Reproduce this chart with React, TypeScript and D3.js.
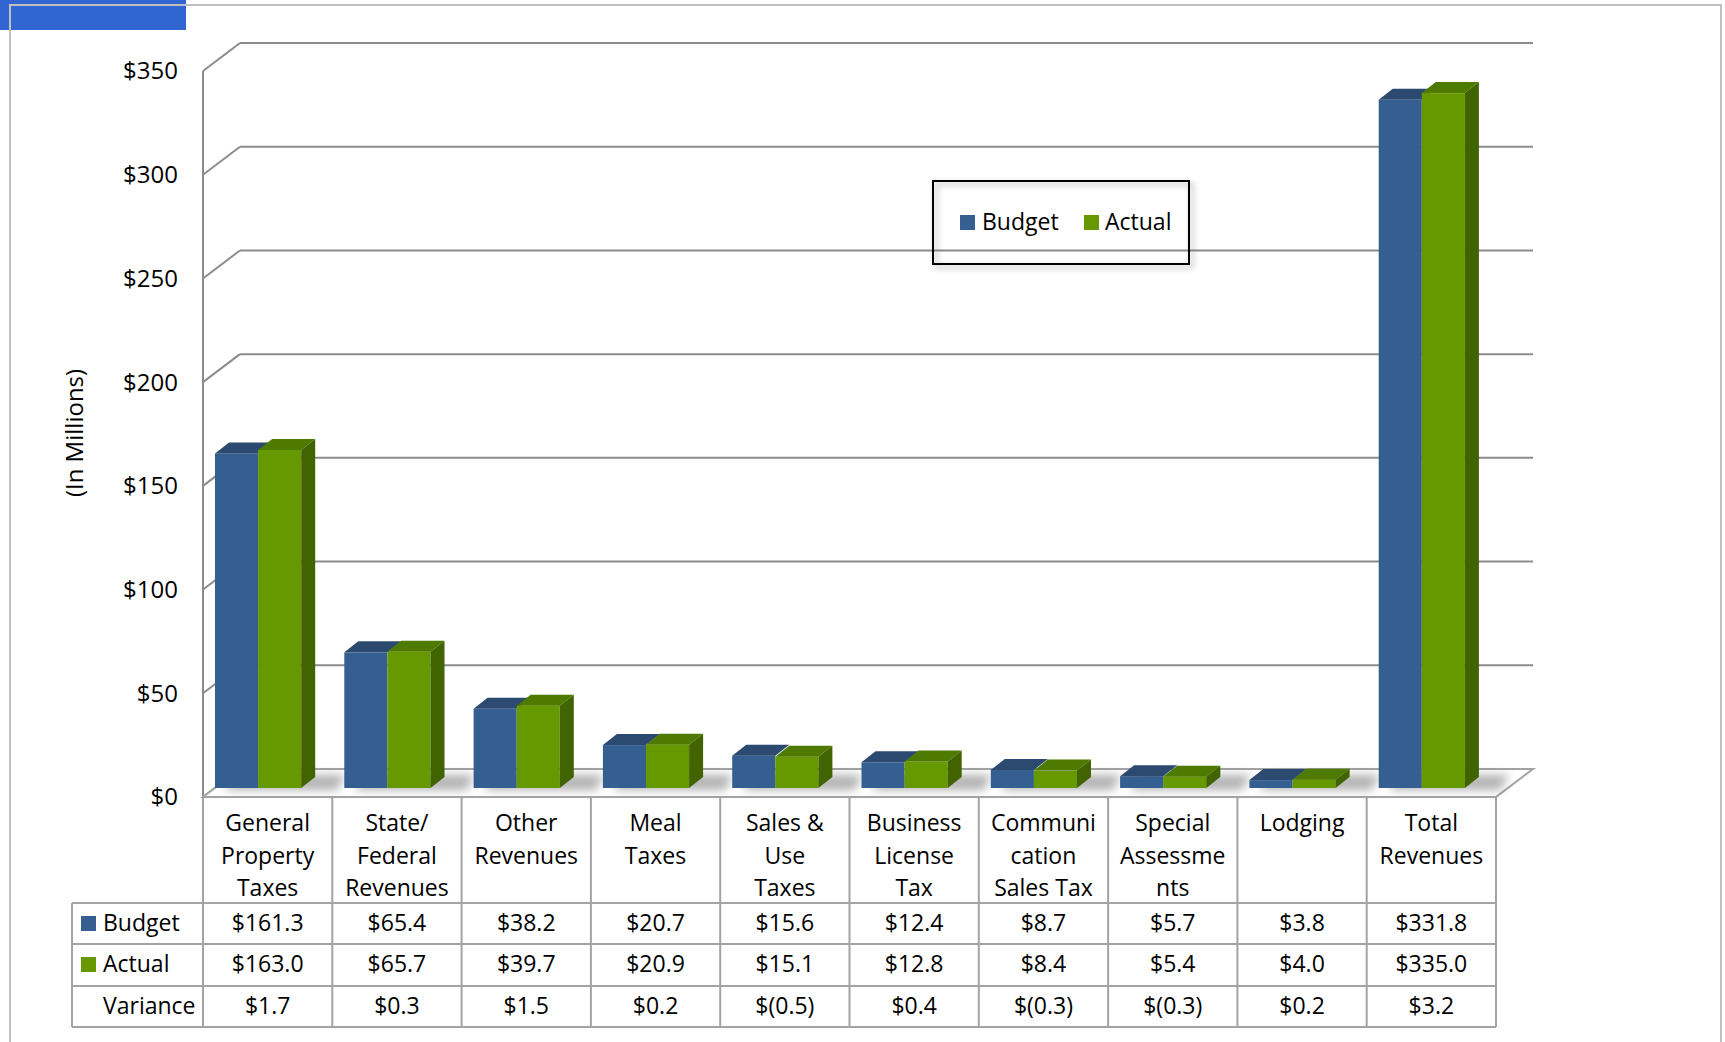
import React from 'react';
import * as d3 from 'd3';

const categorias = [
  ['General', 'Property', 'Taxes'],
  ['State/', 'Federal', 'Revenues'],
  ['Other', 'Revenues'],
  ['Meal', 'Taxes'],
  ['Sales &', 'Use', 'Taxes'],
  ['Business', 'License', 'Tax'],
  ['Communi', 'cation', 'Sales Tax'],
  ['Special', 'Assessme', 'nts'],
  ['Lodging'],
  ['Total', 'Revenues'],
];
const presupuesto = [161.3, 65.4, 38.2, 20.7, 15.6, 12.4, 8.7, 5.7, 3.8, 331.8];
const real = [163.0, 65.7, 39.7, 20.9, 15.1, 12.8, 8.4, 5.4, 4.0, 335.0];
const varianza = [1.7, 0.3, 1.5, 0.2, -0.5, 0.4, -0.3, -0.3, 0.2, 3.2];
const ticks = [0, 50, 100, 150, 200, 250, 300, 350];

const AZUL = '#365f91';
const AZUL_TOP = '#2c4a70';
const VERDE = '#669900';
const VERDE_TOP = '#4e7a00';
const VERDE_LADO = '#416300';
const GRIS = '#8c8c8c';
const BORDE = '#a3a3a3';
const FUENTE = '"Open Sans", Lato, sans-serif';
const TAM = 23;

const fmt = (v: number) => (v < 0 ? `$(${Math.abs(v).toFixed(1)})` : `$${v.toFixed(1)}`);

export default function App() {
  const width = 1725;
  const height = 1042;
  const DX = 37;
  const DY = -28;
  const left = 203;
  const right = 1496;

  const claves = categorias.map((c) => c.join(' '));
  const x = d3.scaleBand<string>().domain(claves).range([left, right]);
  const y = d3.scaleLinear().domain([0, 350]).range([797, 71]);
  const bw = x.bandwidth();
  const barW = bw / 3;
  // posicion de las barras dentro de la profundidad
  const fx = 12;
  const fy = -9;
  const bx = 14;
  const by = -11;

  const tablaTop = y(0);
  const filas = [903, 944, 986, 1027];

  const barra = (x0: number, v: number, front: string, top: string, side: string | null, k: string) => {
    const yb = y(0) + fy;
    const yt = y(v) + fy;
    const x1 = x0 + barW;
    return (
      <g key={k}>
        <rect x={x0} y={yt} width={barW} height={yb - yt} fill={front} />
        <polygon points={`${x0},${yt} ${x1},${yt} ${x1 + bx},${yt + by} ${x0 + bx},${yt + by}`} fill={top} />
        {side && <polygon points={`${x1},${yt} ${x1 + bx},${yt + by} ${x1 + bx},${yb + by} ${x1},${yb}`} fill={side} />}
      </g>
    );
  };

  return (
    <svg width={width} height={height} style={{ position: 'absolute', left: 0, top: 0, display: 'block' }} fontFamily={FUENTE}>
      <defs>
        <filter id="sombra" x="-50%" y="-50%" width="200%" height="200%">
          <feGaussianBlur stdDeviation="5" />
        </filter>
        <filter id="sombraLeyenda" x="-10%" y="-20%" width="130%" height="150%">
          <feDropShadow dx="3" dy="3" stdDeviation="3" floodColor="#000" floodOpacity="0.35" />
        </filter>
      </defs>
      <rect width={width} height={height} fill="#fff" />
      <rect x={0} y={0} width={186} height={30} fill="#3165d2" />
      <path d={`M10,${height} V5 H1721 V${height}`} fill="none" stroke="#c0c0c0" strokeWidth={2} />

      {/* pared del fondo y pared izquierda */}
      {ticks.map((t) => (
        <g key={t}>
          <line x1={left + DX} x2={right + DX} y1={y(t) + DY} y2={y(t) + DY} stroke={GRIS} strokeWidth={2} />
          <line x1={left} x2={left + DX} y1={y(t)} y2={y(t) + DY} stroke={GRIS} strokeWidth={2} />
          <text x={178} y={y(t)} dy="0.35em" textAnchor="end" fontSize={24} fill="#000">${t}</text>
        </g>
      ))}
      <line x1={left} x2={left} y1={y(350)} y2={y(0)} stroke={GRIS} strokeWidth={2} />
      <polygon
        points={`${left},${y(0)} ${right},${y(0)} ${right + DX},${y(0) + DY} ${left + DX},${y(0) + DY}`}
        fill="#fff"
        stroke={BORDE}
        strokeWidth={2}
      />

      <text transform={`translate(83,433) rotate(-90)`} textAnchor="middle" fontSize={24} fill="#000">(In Millions)</text>

      {/* sombras en el piso */}
      {claves.map((c, i) => {
        const x0 = (x(c) as number) + fx;
        return (
          <polygon
            key={`s${i}`}
            points={`${x0 + 10},${y(0) + fy + 2} ${x0 + 2 * barW + bx + 22},${y(0) + fy + 2} ${x0 + 2 * barW + bx + 30},${y(0) + fy + by - 2} ${x0 + 20},${y(0) + fy + by - 2}`}
            fill="#555"
            opacity={0.45}
            filter="url(#sombra)"
          />
        );
      })}

      {/* barras */}
      {claves.map((c, i) => {
        const x0 = (x(c) as number) + fx;
        return (
          <g key={`b${i}`}>
            {barra(x0, presupuesto[i], AZUL, AZUL_TOP, null, 'p')}
            {barra(x0 + barW, real[i], VERDE, VERDE_TOP, VERDE_LADO, 'r')}
          </g>
        );
      })}

      {/* leyenda */}
      <rect x={933} y={181} width={256} height={83} fill="none" stroke="#000" strokeWidth={2} filter="url(#sombraLeyenda)" />
      <rect x={960} y={215} width={15} height={15} fill={AZUL} />
      <text x={982} y={222} dy="0.35em" fontSize={TAM} fill="#000">Budget</text>
      <rect x={1084} y={215} width={15} height={15} fill={VERDE} />
      <text x={1105} y={222} dy="0.35em" fontSize={TAM} fill="#000">Actual</text>

      {/* tabla de datos */}
      <g stroke={BORDE} strokeWidth={2} fill="none">
        <line x1={left} x2={right} y1={tablaTop} y2={tablaTop} />
        {claves.map((c) => (
          <line key={c} x1={x(c) as number} x2={x(c) as number} y1={tablaTop} y2={filas[3]} />
        ))}
        <line x1={right} x2={right} y1={tablaTop} y2={filas[3]} />
        <line x1={72} x2={72} y1={filas[0]} y2={filas[3]} />
        {filas.map((f) => (
          <line key={f} x1={72} x2={right} y1={f} y2={f} />
        ))}
      </g>
      {claves.map((c, i) => {
        const cx = (x(c) as number) + bw / 2;
        return (
          <g key={`t${i}`} fontSize={TAM} fill="#000" textAnchor="middle">
            {categorias[i].map((l, j) => (
              <text key={j} x={cx} y={823 + j * 32.5} dy="0.35em">{l}</text>
            ))}
            <text x={cx} y={923} dy="0.35em">{fmt(presupuesto[i])}</text>
            <text x={cx} y={964} dy="0.35em">{fmt(real[i])}</text>
            <text x={cx} y={1006} dy="0.35em">{fmt(varianza[i])}</text>
          </g>
        );
      })}
      <rect x={81} y={916} width={15} height={15} fill={AZUL} />
      <text x={103} y={923} dy="0.35em" fontSize={TAM} fill="#000">Budget</text>
      <rect x={81} y={957} width={15} height={15} fill={VERDE} />
      <text x={103} y={964} dy="0.35em" fontSize={TAM} fill="#000">Actual</text>
      <text x={103} y={1006} dy="0.35em" fontSize={TAM} fill="#000">Variance</text>
    </svg>
  );
}
